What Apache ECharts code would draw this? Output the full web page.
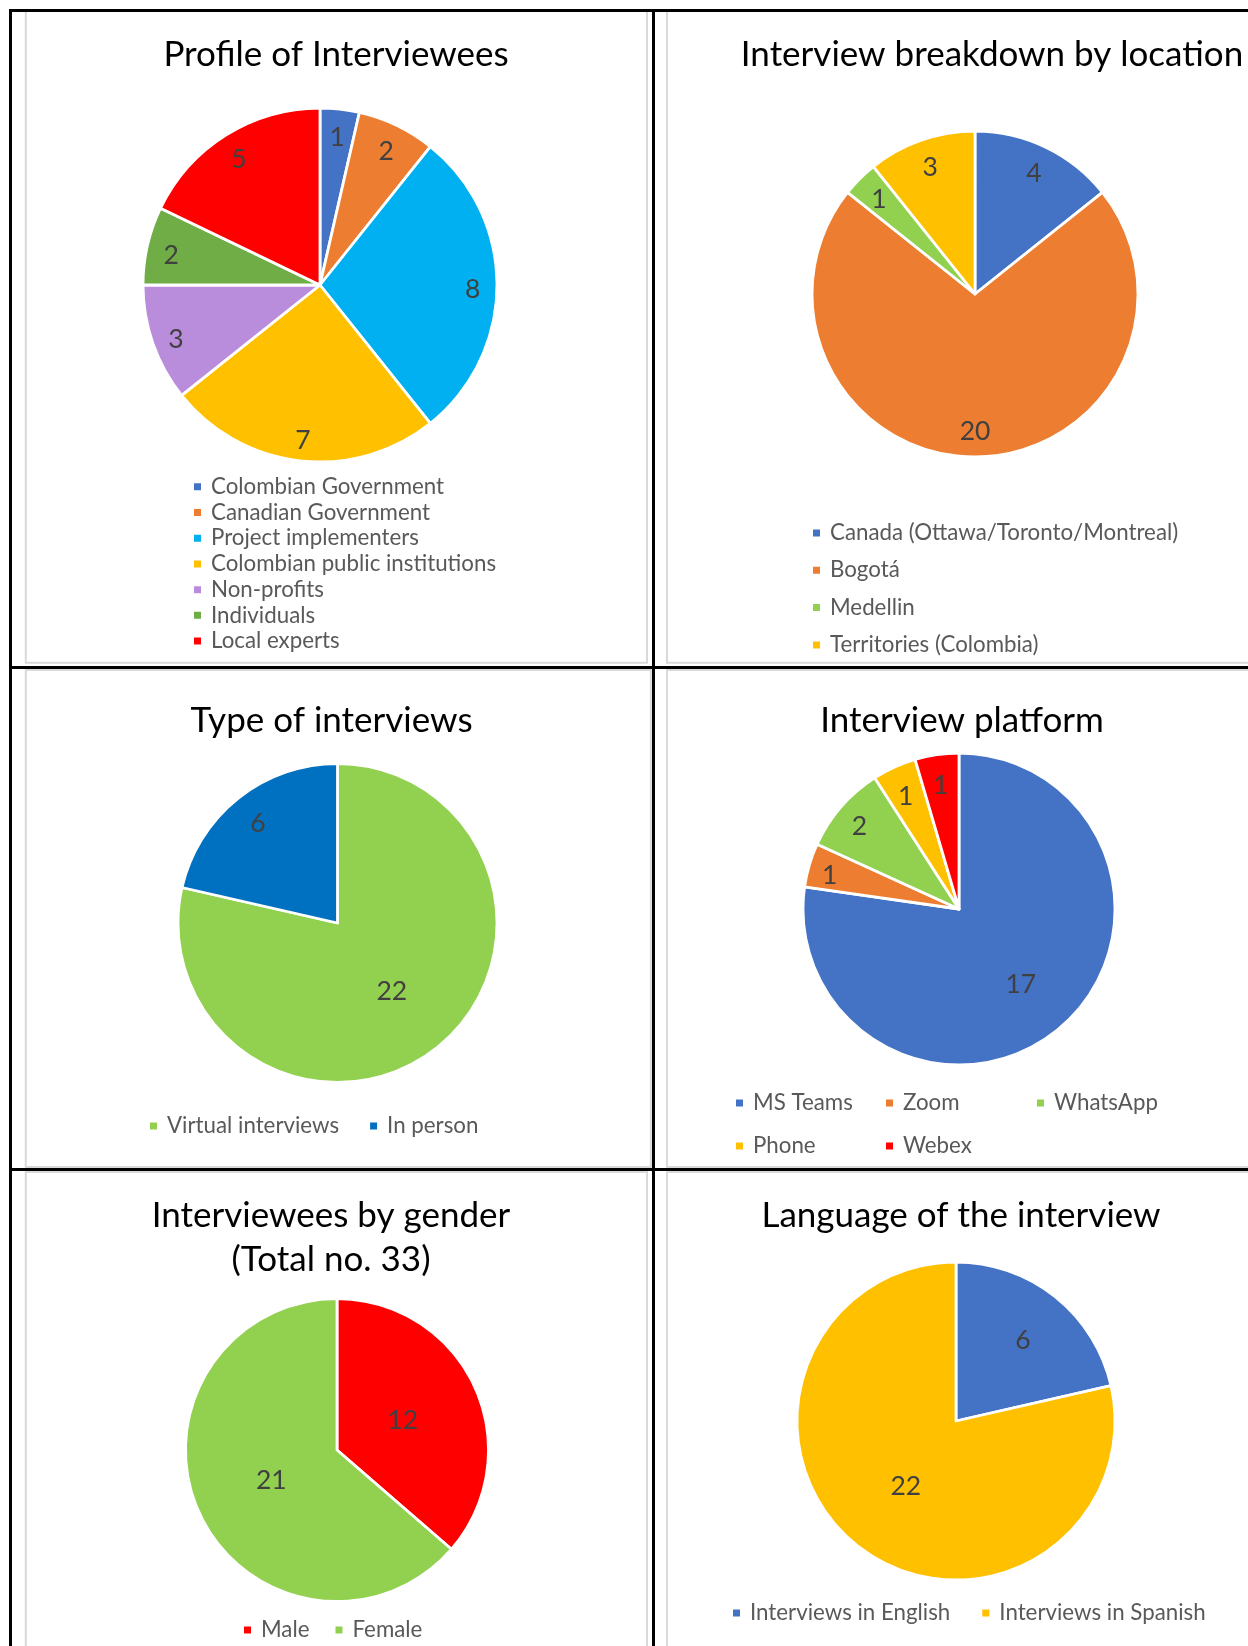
<!DOCTYPE html>
<html>
<head>
<meta charset="utf-8">
<script src="https://cdn.jsdelivr.net/npm/echarts@6/dist/echarts.min.js"></script>
<style>
  html, body { margin: 0; padding: 0; background: #fff; }
  #chart { width: 1248px; height: 1646px; }
</style>
</head>
<body>
<div id="chart"></div>
<script>
// ---- Interview statistics ----
const profileCategories = ['Colombian Government', 'Canadian Government', 'Project implementers',
  'Colombian public institutions', 'Non-profits', 'Individuals', 'Local experts'];
const profileValues = [1, 2, 8, 7, 3, 2, 5];

const locationCategories = ['Canada (Ottawa/Toronto/Montreal)', 'Bogotá', 'Medellin', 'Territories (Colombia)'];
const locationValues = [4, 20, 1, 3];

const typeCategories = ['Virtual interviews', 'In person'];
const typeValues = [22, 6];

const platformCategories = ['MS Teams', 'Zoom', 'WhatsApp', 'Phone', 'Webex'];
const platformValues = [17, 1, 2, 1, 1];

const genderCategories = ['Male', 'Female'];
const genderValues = [12, 21];

const languageCategories = ['Interviews in English', 'Interviews in Spanish'];
const languageValues = [6, 22];

const genderTotal = genderValues.reduce((a, b) => a + b, 0);

// ---- Styling ----
const FONT = 'Lato, "Open Sans", "Noto Sans", sans-serif';
const TITLE_SIZE = 35;
const LEGEND_SIZE = 22.3;
const LABEL_SIZE = 26.5;
const LEGEND_COLOR = '#595959';
const LABEL_COLOR = '#404040';

// One entry per pie panel: where it sits and how it is styled.
const panels = [
  {
    title: 'Profile of Interviewees', names: profileCategories, values: profileValues,
    colors: ['#4472C4', '#ED7D31', '#00B0F0', '#FFC000', '#B98CDC', '#70AD47', '#FF0000'],
    titleX: 336, titleY: 55, cx: 320, cy: 285, r: 176, labelDy: 4,
    labelFrac: [0.85, 0.85, 0.85, 0.85, 0.85, 0.85, 0.85],
    legends: [{ orient: 'vertical', left: 192, top: 474, gap: 0, lineHeight: 25.7, items: profileCategories }]
  },
  {
    title: 'Interview breakdown by location', names: locationCategories, values: locationValues,
    colors: ['#4472C4', '#ED7D31', '#92D050', '#FFC000'],
    titleX: 992, titleY: 55, cx: 975, cy: 294, r: 162, labelDy: 2,
    labelFrac: [0.82, 0.82, 0.82, 0.82],
    legends: [{ orient: 'vertical', left: 811, top: 520, gap: 11.3, lineHeight: 26, items: locationCategories }]
  },
  {
    title: 'Type of interviews', names: typeCategories, values: typeValues,
    colors: ['#92D050', '#0070C0'],
    titleX: 331.5, titleY: 721, cx: 337.5, cy: 923, r: 158.5, labelDy: 0,
    labelFrac: [0.53, 0.785],
    legends: [{ orient: 'horizontal', left: 148, top: 1113, gap: 29, lineHeight: 26, items: typeCategories }]
  },
  {
    title: 'Interview platform', names: platformCategories, values: platformValues,
    colors: ['#4472C4', '#ED7D31', '#92D050', '#FFC000', '#FF0000'],
    titleX: 962, titleY: 721, cx: 959, cy: 909, r: 155, labelDy: 4,
    labelFrac: [0.59, 0.85, 0.83, 0.81, 0.81],
    legends: [
      { orient: 'vertical', left: 734, top: 1090, gap: 17, lineHeight: 26, items: ['MS Teams', 'Phone'] },
      { orient: 'vertical', left: 884, top: 1090, gap: 17, lineHeight: 26, items: ['Zoom', 'Webex'] },
      { orient: 'vertical', left: 1035, top: 1090, gap: 17, lineHeight: 26, items: ['WhatsApp'] }
    ]
  },
  {
    title: 'Interviewees by gender\n(Total no. ' + genderTotal + ')', names: genderCategories, values: genderValues,
    colors: ['#FF0000', '#92D050'],
    titleX: 331, titleY: 1238, cx: 337, cy: 1450, r: 150.5, labelDy: 0,
    labelFrac: [0.46, 0.46],
    legends: [{ orient: 'horizontal', left: 242, top: 1617, gap: 24, lineHeight: 26, items: genderCategories }]
  },
  {
    title: 'Language of the interview', names: languageCategories, values: languageValues,
    colors: ['#4472C4', '#FFC000'],
    titleX: 961, titleY: 1216, cx: 956, cy: 1421, r: 158, labelDy: 3,
    labelFrac: [0.66, 0.49],
    legends: [{ orient: 'horizontal', left: 731, top: 1600, gap: 30, lineHeight: 26, items: languageCategories }]
  }
];

// Pie with white separators; labels are drawn by transparent rings so that
// each value sits at the requested fraction of the radius.
function pieSeries(p) {
  const main = {
    type: 'pie', center: [p.cx, p.cy], radius: p.r + 1,
    startAngle: 90, clockwise: true, avoidLabelOverlap: false,
    label: { show: false }, labelLine: { show: false },
    itemStyle: { borderColor: '#ffffff', borderWidth: 2.8 },
    emphasis: { scale: false },
    data: p.names.map((n, i) => ({ name: n, value: p.values[i], itemStyle: { color: p.colors[i] } })),
    z: 2
  };
  const groups = {};
  p.labelFrac.forEach((f, i) => { (groups[f] = groups[f] || []).push(i); });
  const rings = Object.keys(groups).map(k => {
    const f = +k;
    const inner = f >= 0.5 ? (2 * f - 1) * p.r : 0;
    const outer = f >= 0.5 ? p.r : 2 * f * p.r;
    return {
      type: 'pie', silent: true, center: [p.cx, p.cy], radius: [inner, outer],
      startAngle: 90, clockwise: true, avoidLabelOverlap: false,
      itemStyle: { color: 'rgba(0,0,0,0)', borderWidth: 0 },
      emphasis: { disabled: true }, tooltip: { show: false },
      label: {
        show: true, position: 'inside', formatter: '{c}',
        color: LABEL_COLOR, fontFamily: FONT, fontSize: LABEL_SIZE
      },
      labelLayout: { dy: p.labelDy },
      labelLine: { show: false },
      data: p.names.map((n, i) => ({ name: n, value: p.values[i], label: { show: groups[k].includes(i) } })),
      z: 3
    };
  });
  return [main].concat(rings);
}

function legendBlocks(p) {
  return p.legends.map(l => ({
    orient: l.orient, left: l.left, top: l.top, padding: 0,
    itemGap: l.gap, itemWidth: 9, itemHeight: 9, icon: 'rect',
    data: l.items,
    textStyle: {
      fontFamily: FONT, fontSize: LEGEND_SIZE, color: LEGEND_COLOR,
      lineHeight: l.lineHeight, padding: [0, 0, 0, 4]
    }
  }));
}

// Cell frames (light grey) and table rules (black)
const frameStyle = { fill: 'none', stroke: '#D9D9D9', lineWidth: 2 };
const frames = [
  [25.8, 11, 621.2, 651.7], [667, 11, 700, 651.7],
  [25.8, 670, 625, 497], [667, 670, 700, 497],
  [25.8, 1172, 621.2, 600], [667, 1172, 700, 600]
].map(f => ({ type: 'rect', shape: { x: f[0], y: f[1], width: f[2], height: f[3] }, style: frameStyle, z: 0, silent: true }));
const rules = [
  [9, 9, 1239, 3], [9, 9, 3, 1637], [652, 9, 3, 1637],
  [9, 666, 1239, 3], [9, 1168, 1239, 3]
].map(r => ({ type: 'rect', shape: { x: r[0], y: r[1], width: r[2], height: r[3] }, style: { fill: '#000000' }, z: 10, silent: true }));

const chart = echarts.init(document.getElementById('chart'), null, { renderer: 'canvas' });
chart.setOption({
  animation: false,
  backgroundColor: '#ffffff',
  title: panels.map(p => ({
    text: p.title, left: p.titleX, top: p.titleY,
    textAlign: 'center', textVerticalAlign: 'middle', padding: 0,
    textStyle: { fontFamily: FONT, fontSize: TITLE_SIZE, fontWeight: 'normal', color: '#000000', lineHeight: 44 }
  })),
  legend: panels.flatMap(legendBlocks),
  graphic: { elements: frames.concat(rules) },
  series: panels.flatMap(pieSeries)
});
</script>
</body>
</html>
